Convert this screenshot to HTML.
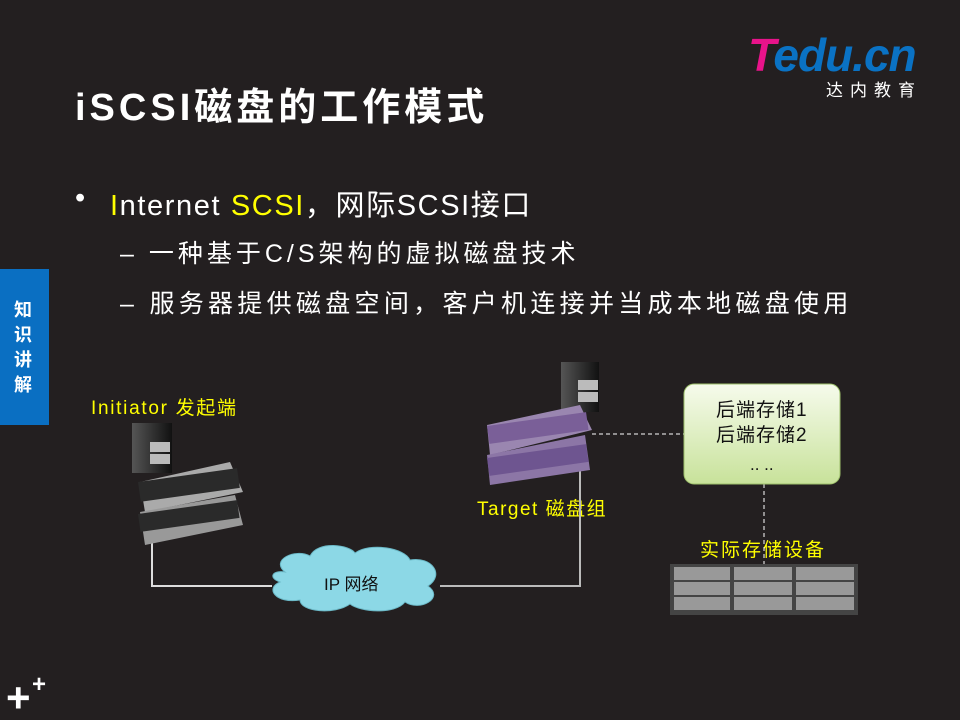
<!DOCTYPE html>
<html><head><meta charset="utf-8"><style>
body{margin:0;width:960px;height:720px;background:#231f20;position:relative;overflow:hidden;font-family:"Liberation Sans","Noto Sans CJK SC",sans-serif;color:#fff}
.a{position:absolute;white-space:nowrap}
.y{color:#ffff00}
</style></head><body>
<div class="a" style="left:748px;top:28px;font:italic bold 46px 'Liberation Sans',sans-serif;letter-spacing:-1px"><span style="color:#e8138a">T</span><span style="color:#0a72c4">edu.cn</span></div>
<div class="a" style="left:826px;top:76px;font-size:17px;letter-spacing:7px">达内教育</div>
<div class="a" style="left:75px;top:76px;font-size:38px;font-weight:bold;letter-spacing:4px">iSCSI磁盘的工作模式</div>
<div class="a" style="left:0;top:269px;width:49px;height:156px;background:#0a6fc2"></div>
<div class="a" style="left:14px;top:298px;font-size:18px;font-weight:bold;line-height:25px;width:20px;white-space:normal">知识讲解</div>
<div class="a" style="left:75px;top:182px;font-size:29px">•</div>
<div class="a" style="left:110px;top:182px;font-size:29px;letter-spacing:1.6px"><span class="y">I</span>nternet <span class="y">SCSI</span>，网际SCSI接口</div>
<div class="a" style="left:120px;top:234px;font-size:25px;letter-spacing:4px">–&nbsp;一种基于C/S架构的虚拟磁盘技术</div>
<div class="a" style="left:120px;top:284px;font-size:25px;letter-spacing:4.3px">–&nbsp;服务器提供磁盘空间，客户机连接并当成本地磁盘使用</div>
<div class="a y" style="left:91px;top:393px;font-size:19px;letter-spacing:1.7px">Initiator 发起端</div>
<div class="a y" style="left:477px;top:494px;font-size:19px;letter-spacing:1.5px">Target 磁盘组</div>
<div class="a y" style="left:700px;top:535px;font-size:19px;letter-spacing:2px">实际存储设备</div>
<svg class="a" style="left:0;top:0" width="960" height="720">
<defs><linearGradient id="g" x1="0" y1="0" x2="0" y2="1"><stop offset="0" stop-color="#f6fbec"/><stop offset="1" stop-color="#c8e29a"/></linearGradient>
<linearGradient id="s" x1="0" y1="0" x2="1" y2="0"><stop offset="0" stop-color="#555"/><stop offset="1" stop-color="#111"/></linearGradient></defs>
<polyline points="152,535 152,586 272,586" fill="none" stroke="#ddd" stroke-width="2"/>
<polyline points="440,586 580,586 580,440" fill="none" stroke="#bbb" stroke-width="2"/>
<line x1="592" y1="434" x2="684" y2="434" stroke="#fff" stroke-dasharray="4,3"/>
<line x1="764" y1="484" x2="764" y2="566" stroke="#fff" stroke-dasharray="4,3"/>
<rect x="132" y="423" width="40" height="50" fill="url(#s)"/><rect x="150" y="442" width="20" height="10" fill="#bbb"/><rect x="150" y="454" width="20" height="10" fill="#bbb"/>
<path d="M140,482 L230,462 L243,492 L145,512 Z" fill="#aaa"/><rect x="138" y="482" width="100" height="20" fill="#2a2a2a" transform="rotate(-8 138 482)"/>
<path d="M140,512 L235,495 L243,525 L145,545 Z" fill="#999"/><rect x="138" y="514" width="100" height="18" fill="#2a2a2a" transform="rotate(-8 138 514)"/>
<rect x="561" y="362" width="38" height="50" fill="url(#s)"/><rect x="578" y="380" width="20" height="10" fill="#bbb"/><rect x="578" y="392" width="20" height="10" fill="#bbb"/>
<path d="M487,425 L580,405 L592,430 L490,455 Z" fill="#9a86b0"/><rect x="487" y="426" width="100" height="18" fill="#7a5f98" transform="rotate(-8 487 426)"/>
<path d="M487,455 L585,435 L590,470 L490,485 Z" fill="#8c76a6"/><rect x="487" y="458" width="100" height="18" fill="#6e5590" transform="rotate(-8 487 458)"/>
<path d="M285,572 C270,560 295,548 310,556 C318,540 350,545 355,553 C370,542 405,548 410,560 C432,556 445,575 428,586 C445,598 420,612 405,602 C395,615 360,612 350,604 C335,615 300,612 300,600 C275,604 265,588 280,582 C268,578 272,570 285,572 Z" fill="#8cd8e6" stroke="#6bb8c6"/>
<text x="324" y="590" font-size="17" fill="#111" font-family="Liberation Sans,Noto Sans CJK SC,sans-serif">IP 网络</text>
<rect x="684" y="384" width="156" height="100" rx="10" fill="url(#g)" stroke="#9cbf6a"/>
<text x="716" y="416" font-size="19" fill="#111" letter-spacing="1" font-family="Liberation Sans,Noto Sans CJK SC,sans-serif">后端存储1</text>
<text x="716" y="441" font-size="19" fill="#111" letter-spacing="1" font-family="Liberation Sans,Noto Sans CJK SC,sans-serif">后端存储2</text>
<text x="750" y="470" font-size="17" fill="#111">.. ..</text>
<rect x="670" y="564" width="188" height="51" fill="#444"/>
<g fill="#999">
<rect x="674" y="567" width="56" height="13"/><rect x="734" y="567" width="58" height="13"/><rect x="796" y="567" width="58" height="13"/>
<rect x="674" y="582" width="56" height="13"/><rect x="734" y="582" width="58" height="13"/><rect x="796" y="582" width="58" height="13"/>
<rect x="674" y="597" width="56" height="13"/><rect x="734" y="597" width="58" height="13"/><rect x="796" y="597" width="58" height="13"/>
</g>
<text x="6" y="712" font-size="42" font-weight="bold" fill="#fff">+</text>
<text x="32" y="692" font-size="24" font-weight="bold" fill="#fff">+</text>
</svg>
</body></html>
